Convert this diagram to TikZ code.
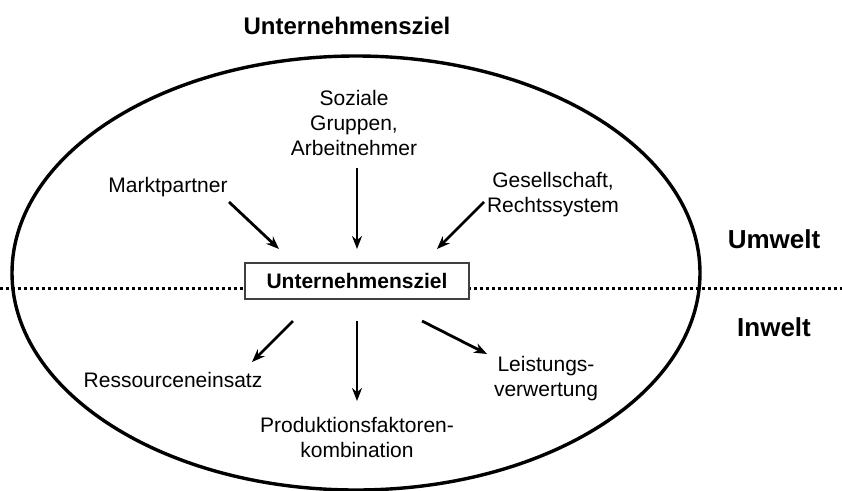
\documentclass[tikz,border=0pt]{standalone}
\usepackage{fontspec}
\setmainfont{Liberation Sans}
\setsansfont{Liberation Sans}
\usetikzlibrary{positioning, arrows.meta}

\begin{document}
\begin{tikzpicture}[x=1pt, y=-1pt,
  font=\sffamily\fontsize{21}{25}\selectfont,
  pfeil/.style={-{Stealth[length=13pt, width=10pt]}, line width=2.8pt},
  lbl/.style={align=center, inner sep=0pt},
  seite/.style={font=\sffamily\bfseries\fontsize{26}{30}\selectfont, inner sep=0pt},
  zielbox/.style={draw=black!75, fill=white, line width=1.2pt, minimum width=224pt,
    minimum height=36pt, inner sep=0pt, font=\sffamily\bfseries\fontsize{21}{25}\selectfont}
]
\useasboundingbox (0,0) rectangle (842,490);

% Rahmen
\draw[line width=3.4pt] (356,273) ellipse [x radius=344, y radius=217];
\draw[line width=3pt, dash pattern=on 3pt off 3pt] (0,288) -- (842,288);

\node[font=\sffamily\bfseries\fontsize{24}{28}\selectfont, inner sep=0pt] (titel) at (347,26) {Unternehmensziel};
\node[zielbox] (ziel) at (357,281) {Unternehmensziel};

% --- Umwelt ---
\node[lbl] (sozial) at (354,123) {Soziale\\Gruppen,\\Arbeitnehmer};
\node[lbl] (markt) at (168,187) {Marktpartner};
\node[lbl] (gesell) at (553,195) {Gesellschaft,\\Rechtssystem};

\coordinate (s1) at (357,168);
\coordinate (s2) at (357,249);
\coordinate (m1) at (229,202);
\coordinate (m2) at (279,249);
\coordinate (g1) at (484,202);
\coordinate (g2) at (437,249);
\draw[pfeil] (s1) -- (s2);
\draw[pfeil] (m1) -- (m2);
\draw[pfeil] (g1) -- (g2);

% --- Inwelt ---
\node[lbl] (ress) at (173,380) {Ressourceneinsatz};
\node[lbl] (prod) at (357,437) {Produktionsfaktoren-\\kombination};
\node[lbl] (leist) at (546,379) {Leistungs-\\verwertung};

\coordinate (r1) at (293,321);
\coordinate (r2) at (252,362);
\coordinate (p1) at (357,321);
\coordinate (p2) at (357,401);
\coordinate (l1) at (422,321);
\coordinate (l2) at (487,354);
\draw[pfeil] (r1) -- (r2);
\draw[pfeil] (p1) -- (p2);
\draw[pfeil] (l1) -- (l2);

\node[seite] (umwelt) at (774,239) {Umwelt};
\node[seite] (inwelt) at (774,327) {Inwelt};

\end{tikzpicture}
\end{document}
